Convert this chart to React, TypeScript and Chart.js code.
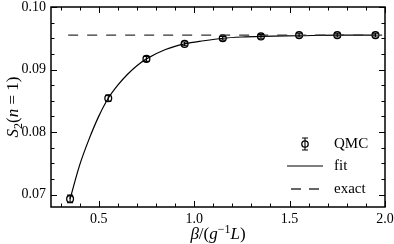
import React, { useEffect, useRef } from "react";
import { Chart, registerables } from "chart.js";

Chart.register(...registerables);

// ---- data ----
const betaValues = [0.35, 0.55, 0.75, 0.95, 1.15, 1.35, 1.55, 1.75, 1.95];
const qmcValues = [0.0693, 0.0854, 0.0917, 0.0941, 0.095, 0.0953, 0.0955, 0.0955, 0.0955];
const qmcErrors = [0.0006, 0.0005, 0.0004, 0.0003, 0.0003, 0.0003, 0.0003, 0.0003, 0.0003];

const fitBeta = [0.35, 0.4, 0.45, 0.5, 0.55, 0.6, 0.65, 0.7, 0.75, 0.85, 0.95, 1.05, 1.15, 1.25, 1.35, 1.55, 1.75, 1.95];
const fitValues = [0.0693, 0.0747, 0.0789, 0.0825, 0.0854, 0.0875, 0.0892, 0.0906, 0.0917, 0.0932, 0.0941, 0.0946, 0.095, 0.0952, 0.0953, 0.0954, 0.0955, 0.0955];

const exactValue = 0.0955;
const exactBeta = [0.34, 2.0];

const xTickValues = [0.5, 1.0, 1.5, 2.0];
const xMinorTicks = [0.3, 0.4, 0.6, 0.7, 0.8, 0.9, 1.1, 1.2, 1.3, 1.4, 1.6, 1.7, 1.8, 1.9];
const yTickValues = [0.07, 0.08, 0.09, 0.1];
const yMinorTicks = [0.0725, 0.075, 0.0775, 0.0825, 0.085, 0.0875, 0.0925, 0.095, 0.0975];

const legendLabels = ["QMC", "fit", "exact"];
const xTitleRuns = [
  { t: "β", italic: true },
  { t: "/(", italic: false },
  { t: "g", italic: true },
  { t: "−1", italic: false, sup: true },
  { t: "L", italic: true },
  { t: ")", italic: false },
];
const yTitleRuns = [
  { t: "S", italic: true },
  { t: "2", italic: false, sub: true },
  { t: "(", italic: false },
  { t: "n", italic: true },
  { t: " = 1)", italic: false },
];

const FAMILY = "'Liberation Serif', 'DejaVu Serif', serif";

type Run = { t: string; italic?: boolean; sup?: boolean; sub?: boolean };

function drawRuns(ctx: CanvasRenderingContext2D, runs: Run[], cx: number, baseline: number, size: number) {
  const fontFor = (r: Run) => {
    const s = r.sup || r.sub ? Math.round(size * 0.7) : size;
    return `${r.italic ? "italic " : ""}${s}px ${FAMILY}`;
  };
  let total = 0;
  const widths = runs.map((r) => {
    ctx.font = fontFor(r);
    const w = ctx.measureText(r.t).width;
    total += w;
    return w;
  });
  let x = cx - total / 2;
  ctx.textAlign = "left";
  ctx.textBaseline = "alphabetic";
  runs.forEach((r, i) => {
    ctx.font = fontFor(r);
    const dy = r.sup ? -size * 0.38 : r.sub ? size * 0.22 : 0;
    ctx.fillText(r.t, x, baseline + dy);
    x += widths[i];
  });
}

const framePlugin = {
  id: "frame",
  afterDatasetsDraw(chart: any) {
    const ctx: CanvasRenderingContext2D = chart.ctx;
    const { left, right, top, bottom } = chart.chartArea;
    const xs = chart.scales.x;
    const ys = chart.scales.y;
    ctx.save();
    ctx.strokeStyle = "#000";
    ctx.fillStyle = "#000";

    // error bars
    ctx.lineWidth = 1.1;
    betaValues.forEach((b, i) => {
      const px = xs.getPixelForValue(b);
      const y1 = ys.getPixelForValue(qmcValues[i] - qmcErrors[i]);
      const y2 = ys.getPixelForValue(qmcValues[i] + qmcErrors[i]);
      ctx.beginPath();
      ctx.moveTo(px, y1);
      ctx.lineTo(px, y2);
      ctx.moveTo(px - 3, y1);
      ctx.lineTo(px + 3, y1);
      ctx.moveTo(px - 3, y2);
      ctx.lineTo(px + 3, y2);
      ctx.stroke();
    });

    // ticks (inward, all four sides)
    ctx.lineWidth = 1;
    const major = 6;
    const minor = 3.5;
    const vtick = (v: number, len: number) => {
      const px = Math.round(xs.getPixelForValue(v)) + 0.5;
      ctx.beginPath();
      ctx.moveTo(px, bottom);
      ctx.lineTo(px, bottom - len);
      ctx.moveTo(px, top);
      ctx.lineTo(px, top + len);
      ctx.stroke();
    };
    const htick = (v: number, len: number) => {
      const py = Math.round(ys.getPixelForValue(v)) + 0.5;
      ctx.beginPath();
      ctx.moveTo(left, py);
      ctx.lineTo(left + len, py);
      ctx.moveTo(right, py);
      ctx.lineTo(right - len, py);
      ctx.stroke();
    };
    xTickValues.forEach((v) => vtick(v, major));
    xMinorTicks.forEach((v) => vtick(v, minor));
    yTickValues.forEach((v) => htick(v, major));
    yMinorTicks.forEach((v) => htick(v, minor));

    // frame
    ctx.lineWidth = 1.5;
    ctx.strokeRect(left, top, right - left, bottom - top);

    // legend
    const lx = 305;
    const rows = [144, 166, 189];
    const tx = 334;
    // QMC symbol
    ctx.lineWidth = 1.1;
    ctx.beginPath();
    ctx.moveTo(lx, rows[0] - 6);
    ctx.lineTo(lx, rows[0] + 6);
    ctx.moveTo(lx - 3, rows[0] - 6);
    ctx.lineTo(lx + 3, rows[0] - 6);
    ctx.moveTo(lx - 3, rows[0] + 6);
    ctx.lineTo(lx + 3, rows[0] + 6);
    ctx.stroke();
    ctx.lineWidth = 1.3;
    ctx.beginPath();
    ctx.arc(lx, rows[0], 3.2, 0, Math.PI * 2);
    ctx.stroke();
    // fit
    ctx.lineWidth = 1.2;
    ctx.beginPath();
    ctx.moveTo(287, rows[1]);
    ctx.lineTo(323, rows[1]);
    ctx.stroke();
    // exact
    ctx.strokeStyle = "#333";
    ctx.lineWidth = 1.3;
    ctx.setLineDash([10, 8]);
    ctx.beginPath();
    ctx.moveTo(291, rows[2]);
    ctx.lineTo(323, rows[2]);
    ctx.stroke();
    ctx.setLineDash([]);

    ctx.fillStyle = "#000";
    ctx.font = `15px ${FAMILY}`;
    ctx.textAlign = "left";
    ctx.textBaseline = "middle";
    legendLabels.forEach((l, i) => ctx.fillText(l, tx, rows[i]));

    // axis titles
    drawRuns(ctx, xTitleRuns, (left + right) / 2, 239, 17);
    ctx.save();
    ctx.translate(18, (top + bottom) / 2);
    ctx.rotate(-Math.PI / 2);
    drawRuns(ctx, yTitleRuns, 0, 0, 17);
    ctx.restore();

    ctx.restore();
  },
};

export default function App() {
  const ref = useRef<HTMLCanvasElement | null>(null);

  useEffect(() => {
    if (!ref.current) return;
    const chart = new Chart(ref.current, {
      type: "scatter",
      data: {
        datasets: [
          {
            label: "exact",
            data: exactBeta.map((x) => ({ x, y: exactValue })),
            showLine: true,
            borderColor: "#333",
            borderWidth: 1.3,
            borderDash: [10, 9],
            pointRadius: 0,
          },
          {
            label: "fit",
            data: fitBeta.map((x, i) => ({ x, y: fitValues[i] })),
            showLine: true,
            borderColor: "#000",
            borderWidth: 1.2,
            pointRadius: 0,
            cubicInterpolationMode: "monotone",
          },
          {
            label: "QMC",
            data: betaValues.map((x, i) => ({ x, y: qmcValues[i] })),
            showLine: false,
            pointRadius: 3.4,
            pointBorderWidth: 1.3,
            pointBackgroundColor: "rgba(0,0,0,0)",
            pointBorderColor: "#000",
          },
        ],
      } as any,
      options: {
        responsive: false,
        animation: false,
        devicePixelRatio: 1,
        layout: { padding: { left: 0, right: 9, top: 7, bottom: 0 } },
        plugins: { legend: { display: false }, tooltip: { enabled: false } },
        scales: {
          x: {
            type: "linear",
            min: 0.25,
            max: 2.0,
            afterBuildTicks: (s: any) => {
              s.ticks = xTickValues.map((v) => ({ value: v }));
            },
            afterFit: (s: any) => {
              s.height = 37;
              s.paddingLeft = 0;
              s.paddingRight = 0;
            },
            grid: { display: false, drawTicks: false },
            border: { display: false },
            ticks: {
              padding: 4,
              color: "#000",
              autoSkip: false,
              maxRotation: 0,
              font: { family: FAMILY, size: 14 },
              callback: (v: any) => Number(v).toFixed(1),
            },
          },
          y: {
            type: "linear",
            min: 0.068,
            max: 0.1,
            afterBuildTicks: (s: any) => {
              s.ticks = yTickValues.map((v) => ({ value: v }));
            },
            afterFit: (s: any) => {
              s.width = 51;
              s.paddingTop = 0;
              s.paddingBottom = 0;
            },
            grid: { display: false, drawTicks: false },
            border: { display: false },
            ticks: {
              padding: 5,
              color: "#000",
              autoSkip: false,
              font: { family: FAMILY, size: 14 },
              callback: (v: any) => Number(v).toFixed(2),
            },
          },
        },
      } as any,
      plugins: [framePlugin],
    });
    return () => chart.destroy();
  }, []);

  return (
    <div style={{ position: "fixed", left: 0, top: 0, width: 394, height: 244, background: "#fff" }}>
      <canvas ref={ref} width={394} height={244} style={{ display: "block", width: 394, height: 244 }} />
    </div>
  );
}
